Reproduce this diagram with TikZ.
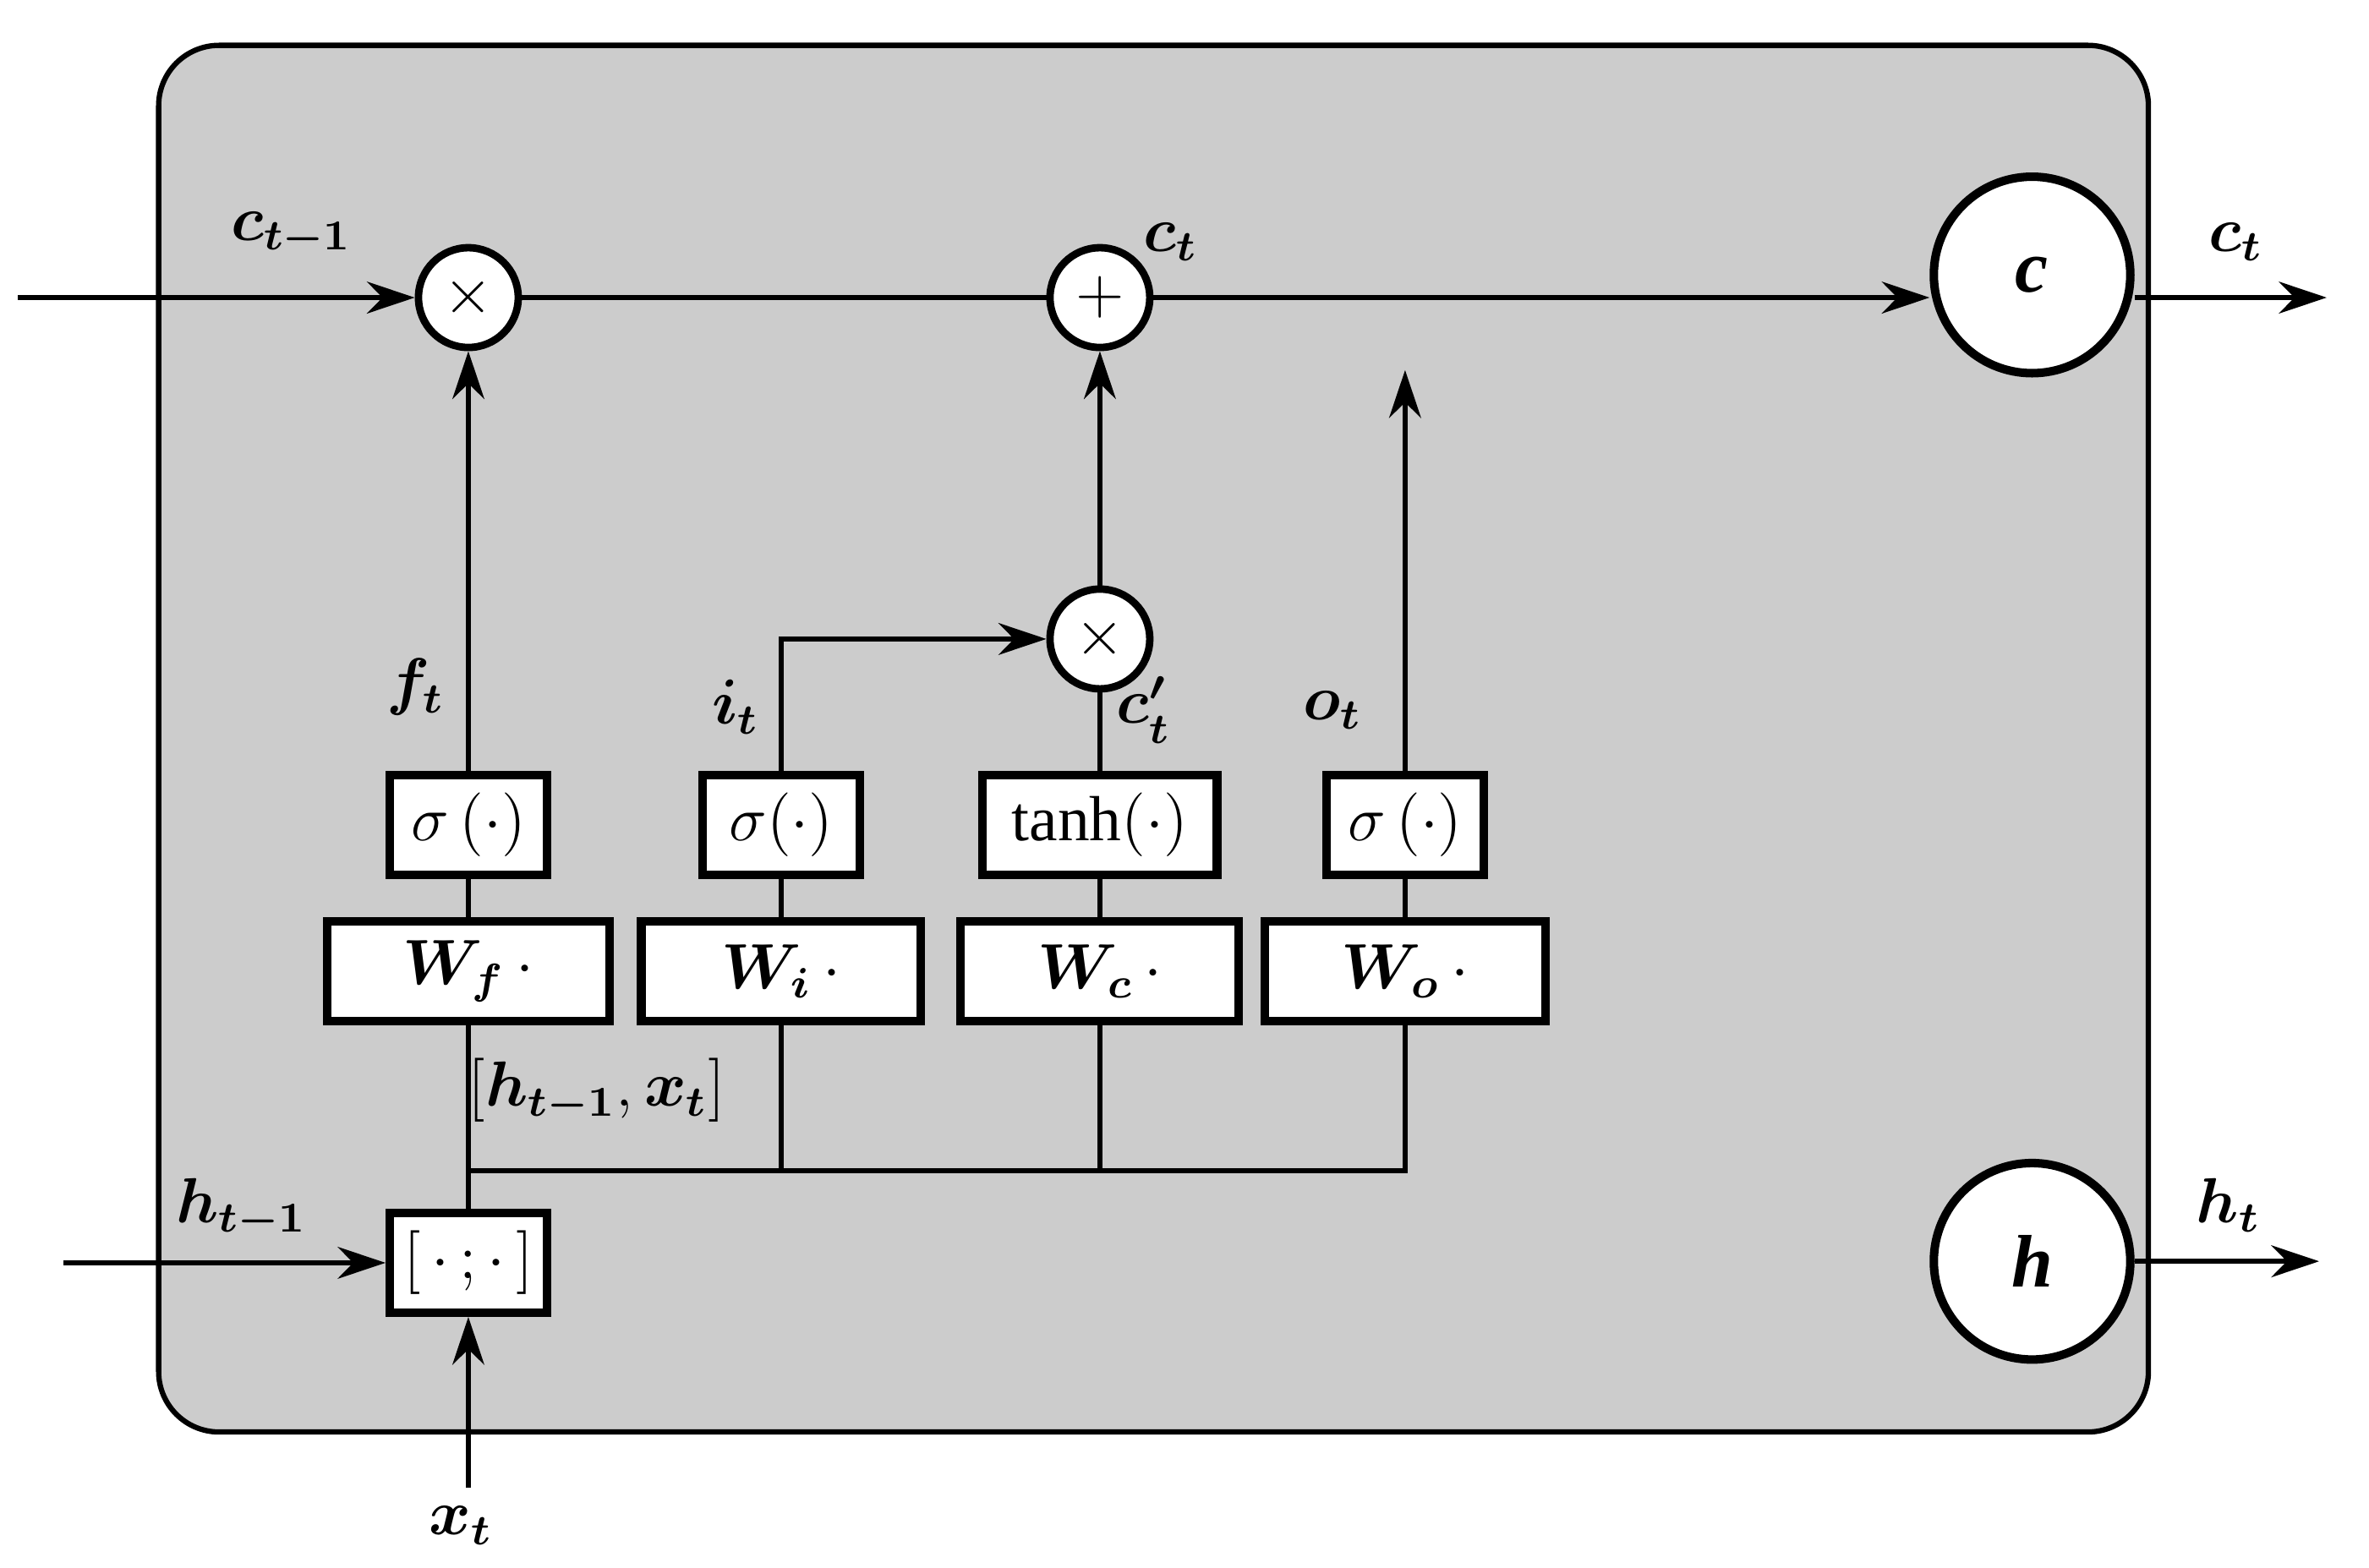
\documentclass[tikz,border=0pt]{standalone}
\usepackage{fontspec}
\setmainfont{Liberation Serif}
\usepackage{amsmath}
\usetikzlibrary{arrows.meta}
\begin{document}
\begin{tikzpicture}[x=0.01cm,y=-0.01cm,
  box/.style={draw,line width=1.6pt,fill=white,minimum height=0.66cm,inner sep=0pt,font=\fontsize{12}{14}\selectfont},
  op/.style={draw,line width=1.4pt,fill=white,circle,minimum size=0.66cm,inner sep=0pt,font=\fontsize{13}{14}\selectfont},
  big/.style={draw,line width=1.6pt,fill=white,circle,minimum size=1.3cm,inner sep=0pt,font=\fontsize{14}{16}\selectfont\bfseries\itshape},
  lab/.style={font=\fontsize{12}{14}\selectfont\bfseries},
  con/.style={line width=0.9pt},
  arr/.style={con,-{Stealth[length=9pt,width=6pt]}}]
\useasboundingbox (0,0) rectangle (1568,1038);
\draw[line width=1pt,fill=black!20,rounded corners=0.4cm] (105,30) rectangle (1422,948);
\node[op] (m1) at (310,197) {$\times$};
\node[op] (p) at (728,197) {$+$};
\node[op] (m2) at (728,423) {$\times$};
\node[big] (c) at (1345,182) {c};
\node[big] (h) at (1345,835) {h};
\node[box,minimum width=1.04cm] (sf) at (310,546) {$\sigma\,(\cdot)$};
\node[box,minimum width=1.04cm] (si) at (517,546) {$\sigma(\cdot)$};
\node[box,minimum width=1.55cm] (th) at (728,546) {tanh$(\cdot)$};
\node[box,minimum width=1.04cm] (so) at (930,546) {$\sigma\,(\cdot)$};
\node[box,minimum width=1.87cm] (wf) at (310,643) {$\boldsymbol{W_f}\,\cdot$};
\node[box,minimum width=1.85cm] (wi) at (517,643) {$\boldsymbol{W_i}\,\cdot$};
\node[box,minimum width=1.84cm] (wc) at (728,643) {$\boldsymbol{W_c}\,\cdot$};
\node[box,minimum width=1.86cm] (wo) at (930,643) {$\boldsymbol{W_o}\,\cdot$};
\node[box,minimum width=1.04cm] (cat) at (310,836) {$[\,\cdot\,;\cdot\,]$};
\coordinate (cin) at (12,197);
\coordinate (cout) at (1540,197);
\coordinate (hin) at (42,836);
\coordinate (hout) at (1535,835);
\coordinate (xin) at (310,985);
\coordinate (oend) at (930,245);
\coordinate (bus) at (310,775);
\draw[arr] (cin) -- (m1);
\draw[con] (m1) -- (p);
\draw[arr] (p) -- (p-|c.west);
\draw[arr] (c.east|-cout) -- (cout);
\draw[arr] (h) -- (hout);
\draw[arr] (hin) -- (cat);
\draw[arr] (xin) -- (cat);
\draw[con] (cat) -- (wf);
\draw[con] (bus) -- (bus-|wo) -- (wo);
\draw[con] (bus-|wi) -- (wi);
\draw[con] (bus-|wc) -- (wc);
\draw[con] (wf) -- (sf);
\draw[con] (wi) -- (si);
\draw[con] (wc) -- (th);
\draw[con] (wo) -- (so);
\draw[arr] (sf) -- (m1);
\draw[arr] (si) |- (m2);
\draw[con] (th) -- (m2);
\draw[arr] (m2) -- (p);
\draw[arr] (so) -- (oend);
\node[lab] at (193,155) {$\boldsymbol{c_{t-1}}$};
\node[lab] at (775,160) {$\boldsymbol{c_t}$};
\node[lab] at (1480,160) {$\boldsymbol{c_t}$};
\node[lab] at (1475,798) {$\boldsymbol{h_t}$};
\node[lab] at (160,800) {$\boldsymbol{h_{t-1}}$};
\node[lab] at (305,1010) {$\boldsymbol{x_t}$};
\node[lab] at (275,455) {$\boldsymbol{f_t}$};
\node[lab] at (487,468) {$\boldsymbol{i_t}$};
\node[lab] at (757,470) {$\boldsymbol{c'_t}$};
\node[lab] at (882,470) {$\boldsymbol{o_t}$};
\node[lab] at (395,722) {$[\boldsymbol{h_{t-1}},\boldsymbol{x_t}]$};
\end{tikzpicture}
\end{document}
